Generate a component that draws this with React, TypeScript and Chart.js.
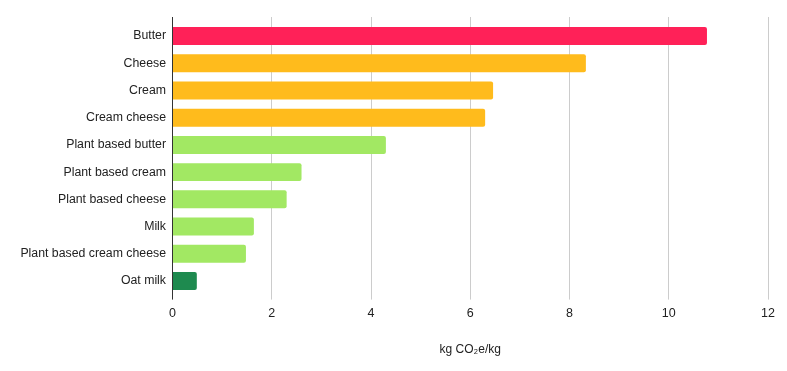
import React, { useEffect, useRef } from "react";
import { Chart, registerables, CategoryScale } from "chart.js";

class PaddedCategory extends CategoryScale {
  static id = "paddedCategory";
  configure() {
    super.configure();
    const extra = (this.options as any).startPad || 0;
    const off = this.options.offset ? 0.5 : 0;
    (this as any)._startValue = this.min - off - extra;
    (this as any)._valueRange = Math.max(this.max - this.min, 0) + 2 * off + extra;
  }
}

Chart.register(...registerables, PaddedCategory);

const categories = [
  "Butter",
  "Cheese",
  "Cream",
  "Cream cheese",
  "Plant based butter",
  "Plant based cream",
  "Plant based cheese",
  "Milk",
  "Plant based cream cheese",
  "Oat milk",
];
const values = [10.77, 8.33, 6.46, 6.3, 4.3, 2.6, 2.3, 1.64, 1.48, 0.49];
const barColors = [
  "#FF2158",
  "#FFBB1C",
  "#FFBB1C",
  "#FFBB1C",
  "#A2E863",
  "#A2E863",
  "#A2E863",
  "#A2E863",
  "#A2E863",
  "#1E8A4F",
];
const axisTitle = "kg CO\u2082e/kg";

const FONT = "'Liberation Sans', Arial, sans-serif";

export default function App() {
  const ref = useRef<HTMLCanvasElement | null>(null);
  useEffect(() => {
    if (!ref.current) return;
    const chart = new Chart(ref.current, {
      type: "bar",
      data: {
        labels: categories,
        datasets: [
          {
            data: values,
            backgroundColor: barColors,
            borderWidth: 0,
            borderRadius: 2,
            borderSkipped: "start",
            barPercentage: 0.66,
            categoryPercentage: 1,
          },
        ],
      },
      options: {
        indexAxis: "y",
        animation: false,
        responsive: false,
        maintainAspectRatio: false,
        layout: { padding: { top: 17, right: 19, bottom: 0, left: 0 } },
        plugins: { legend: { display: false }, tooltip: { enabled: false } },
        scales: {
          x: {
            type: "linear",
            min: 0,
            max: 12,
            ticks: {
              stepSize: 2,
              color: "#222",
              padding: 6.5,
              font: { family: FONT, size: 12.5 },
            },
            grid: {
              color: (c: any) => (c.tick && c.tick.value === 0 ? "#333" : "#ccc"),
              tickLength: 5,
            },
            border: { display: false },
            title: {
              display: true,
              text: axisTitle,
              color: "#222",
              font: { family: FONT, size: 12 },
              padding: { top: 14.5, bottom: 14.5 },
            },
          },
          y: {
            type: "paddedCategory" as any,
            startPad: 0.2,
            ticks: {
              color: "#222",
              padding: 6.5,
              font: { family: FONT, size: 12.3 },
            },
            grid: { display: false, drawTicks: false },
            border: { display: true, color: "#333", width: 1 },
            afterFit: (s: any) => {
              s.width = 172.5;
            },
          } as any,
        },
      },
    });
    return () => chart.destroy();
  }, []);
  return (
    <div style={{ position: "fixed", left: 0, top: 0, width: 787, height: 371, background: "#fff" }}>
      <canvas ref={ref} width={787} height={371} style={{ display: "block" }} />
    </div>
  );
}
